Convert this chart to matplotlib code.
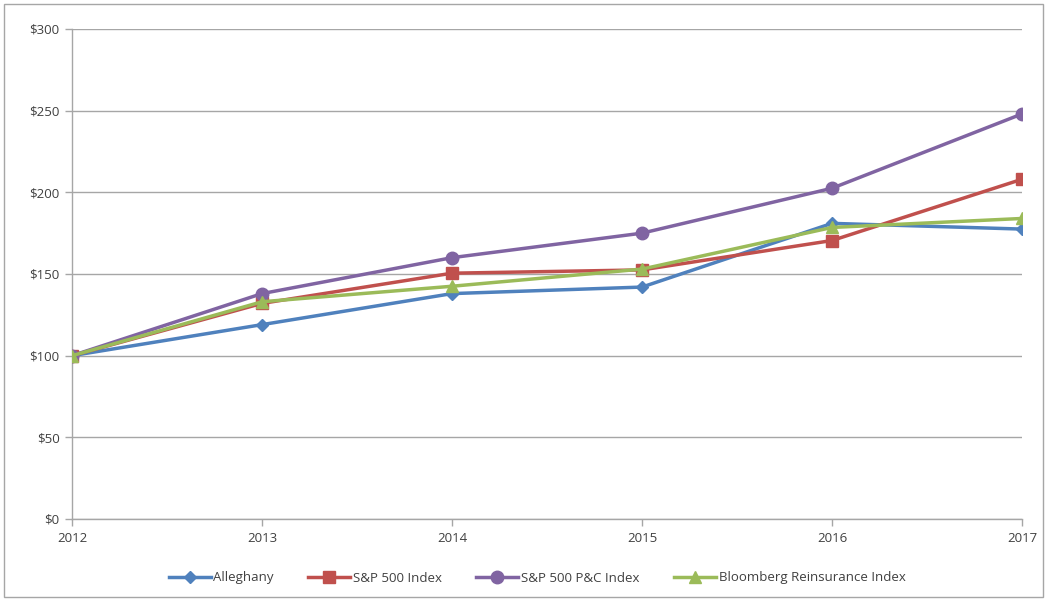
#Recreates the cumulative return comparison line chart
import numpy as np
import matplotlib.pyplot as plt
from matplotlib.patches import Rectangle

plt.rcParams['font.family'] = ['Open Sans', 'DejaVu Sans']

#data
years = [2012, 2013, 2014, 2015, 2016, 2017]
alleghany = [100, 119, 138, 142, 181, 177.5]
sp500 = [100, 132, 150.5, 152.5, 170.5, 208]
sp500_pc = [100, 138, 160, 175, 202.5, 248]
bloomberg_re = [100, 133, 142.5, 153, 178.5, 184]
series_names = ['Alleghany', 'S&P 500 Index', 'S&P 500 P&C Index', 'Bloomberg Reinsurance Index']
y_ticks = [0, 50, 100, 150, 200, 250, 300]

colors = ['#4F81BD', '#C0504D', '#8064A2', '#9BBB59']
markers = ['D', 's', 'o', '^']
msizes = [6, 8, 9, 8]

fig = plt.figure(figsize=(10.47, 5.99), dpi=100)
ax = fig.add_axes([72/1047, 1-519/599, 950/1047, 490/599])

#outer chart border
fig.patches.append(Rectangle((0.004, 0.004), 0.992, 0.99, transform=fig.transFigure,
                             fill=False, edgecolor='#A6A6A6', linewidth=1.0))

for vals, name, c, m, ms in zip([alleghany, sp500, sp500_pc, bloomberg_re], series_names, colors, markers, msizes):
    ax.plot(years, vals, color=c, marker=m, markersize=ms, linewidth=2.5, label=name, zorder=3)

ax.set_xlim(2012, 2017)
ax.set_ylim(0, 300)
ax.set_xticks(years)
ax.set_yticks(y_ticks)
ax.set_yticklabels(['$' + str(v) for v in y_ticks])
ax.grid(axis='y', color='#A6A6A6', linewidth=1.0)
ax.set_axisbelow(True)
for s in ['top', 'right']:
    ax.spines[s].set_visible(False)
for s in ['left', 'bottom']:
    ax.spines[s].set_color('#A6A6A6')
    ax.spines[s].set_linewidth(1.0)
ax.tick_params(axis='both', colors='#A6A6A6', labelcolor='#404040', labelsize=9.5, length=5, width=1.0)
ax.tick_params(axis='y', pad=4)
ax.tick_params(axis='x', pad=4)

fig.legend(loc='center', bbox_to_anchor=(537/1047, 1-578/599), ncol=4, frameon=False,
           fontsize=9.5, handlelength=3.2, handletextpad=0.2, columnspacing=2.6, labelcolor='#404040')

fig.savefig('out.png', dpi=100)
